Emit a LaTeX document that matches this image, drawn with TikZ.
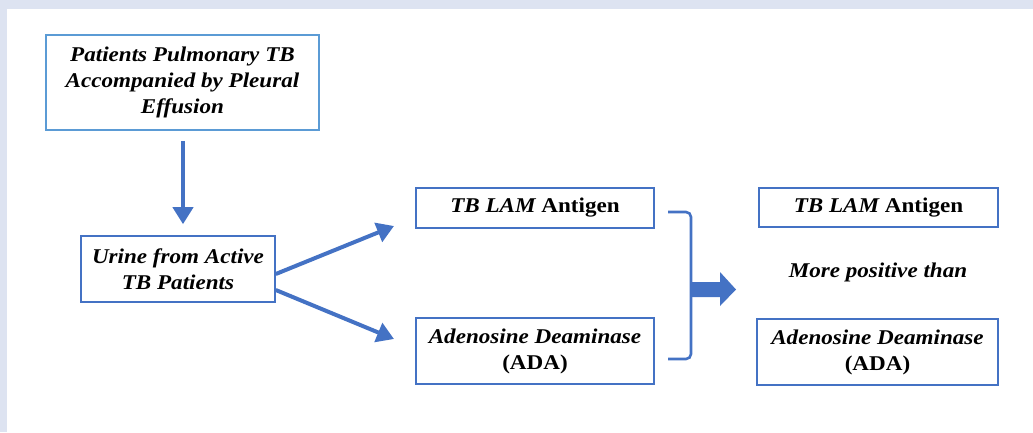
\documentclass[tikz,border=0pt]{standalone}
\usepackage{fontspec}
\setmainfont{Liberation Serif}[FakeStretch=1.1]
\usepackage{tikz}
\usetikzlibrary{positioning, arrows.meta}
\definecolor{boxblue}{HTML}{4472C4}
\definecolor{lightblue}{HTML}{5B9BD5}
\definecolor{framegray}{HTML}{DDE3F1}
\tikzstyle{bx}=[%
      rectangle, draw=boxblue, line width=1.6pt, fill=white,
      align=center, inner sep=4pt,
      font=\bfseries\itshape\fontsize{21}{26}\selectfont
]
\tikzstyle{arr}=[%
      draw=boxblue, line width=4pt,
      -{Triangle[length=17pt,width=20pt]}
]
\tikzstyle{brk}=[%
      draw=boxblue, line width=2.6pt, rounded corners=5pt
]

\begin{document}
\begin{tikzpicture}[x=1pt, y=-1pt]
    \useasboundingbox (0,0) rectangle (1033,432);
    \fill[framegray] (0,0) rectangle (1033,9);
    \fill[framegray] (0,0) rectangle (7,432);

    \node[bx, draw=lightblue, minimum width=273pt, minimum height=95pt] (pat) at (182.5,82.5)
        {Patients Pulmonary TB\\Accompanied by Pleural\\Effusion};
    \node[bx, minimum width=194pt, minimum height=66pt] (urine) at (178,269)
        {Urine from Active\\TB Patients};
    \node[bx, minimum width=238pt, minimum height=40pt] (lam) at (535,208)
        {TB LAM \upshape Antigen};
    \node[bx, minimum width=238pt, minimum height=66pt] (ada) at (535,351)
        {Adenosine Deaminase\\\upshape (ADA)};
    \node[bx, minimum width=239pt, minimum height=39pt] (lamr) at (878.5,207.5)
        {TB LAM \upshape Antigen};
    \node[font=\bfseries\itshape\fontsize{21}{26}\selectfont] (more) at (878,272)
        {More positive than};
    \node[bx, minimum width=241pt, minimum height=66pt] (adar) at (877.5,352)
        {Adenosine Deaminase\\\upshape (ADA)};

    \coordinate (ua) at ([yshift=-5pt]urine.east);
    \coordinate (ub) at ([yshift=-21pt]urine.east);
    \coordinate (ta) at (394,226);
    \coordinate (tb) at (394,339);
    \coordinate (btop) at (668,212);
    \coordinate (bbot) at (668,359);

    \draw[arr, shorten <=10pt, shorten >=11pt] (pat.south -| 183,0) -- (urine.north -| 183,0);
    \draw[arr] (ua) -- (ta);
    \draw[arr] (ub) -- (tb);
    \draw[brk] (btop) -- ++(23,0) -- ++(0,147) -- (bbot);
    \fill[boxblue] (691,282) -- (720,282) -- (720,272) -- (736,289.5)
        -- (720,306) -- (720,297) -- (691,297) -- cycle;
\end{tikzpicture}
\end{document}
